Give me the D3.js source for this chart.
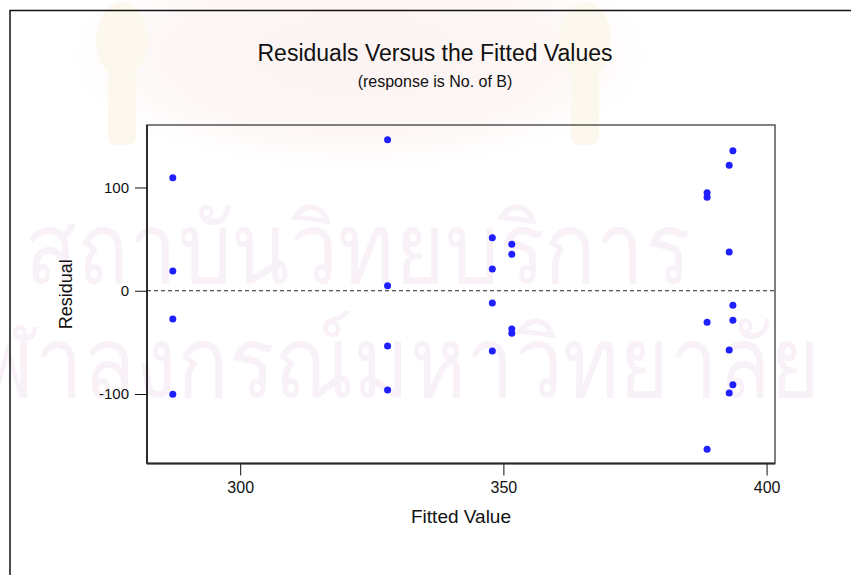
<!DOCTYPE html>
<html>
<head>
<meta charset="utf-8">
<script src="https://cdn.jsdelivr.net/npm/d3@7"></script>
<style>
  body { margin: 0; background: #fff; }
  text { font-family: "Liberation Sans", Arial, sans-serif; }
</style>
</head>
<body>
<svg width="851" height="575"></svg>
<script>
// Residuals vs fitted values (Minitab style)
const width = 851
const height = 575

// data
const fitted = [
  287.2, 287.2, 287.2, 287.2,
  328.0, 328.0, 328.0, 328.0,
  347.9, 347.9, 347.9, 347.9,
  351.6, 351.6, 351.6, 351.6,
  388.7, 388.7, 388.7, 388.7,
  392.9, 392.9, 392.9, 392.9,
  393.6, 393.6, 393.6, 393.6
]
const residual = [
  109.5, 19.1, -27.4, -100.3,
  146.3, 4.9, -53.5, -96.1,
  51.4, 21.1, -11.9, -58.4,
  45.0, 35.3, -37.0, -41.2,
  95.0, 90.5, -30.6, -153.6,
  121.5, 37.5, -57.4, -99.0,
  135.6, -14.1, -28.6, -91.0
]
const xTicks = [300, 350, 400]
const yTicks = [-100, 0, 100]
const watermark = ["สถาบันวิทยบริการ", "จุฬาลงกรณ์มหาวิทยาลัย"]

const points = fitted.map((f, i) => ({x: f, y: residual[i]}))

const svg = d3.select("svg")

// plot area
const pLeft = 147, pRight = 775, pTop = 125, pBottom = 463.5

const xScale = d3.scaleLinear()
  .domain([282.3, 401.6])
  .range([pLeft, pRight])

const yScale = d3.scaleLinear()
  .domain([-167.3, 160.5])
  .range([pBottom, pTop])

//################### watermark ####################
// faint emblem glow behind the title
const grad = svg.append("defs").append("radialGradient")
  .attr("id", "glow")
grad.append("stop").attr("offset", "0%").attr("stop-color", "#fcf3f3")
grad.append("stop").attr("offset", "70%").attr("stop-color", "#fdf7f6")
grad.append("stop").attr("offset", "100%").attr("stop-color", "#ffffff")
svg.append("ellipse")
  .attr("cx", 360).attr("cy", 55)
  .attr("rx", 290).attr("ry", 115)
  .attr("fill", "url(#glow)")
// tassels of the emblem
const tassel = svg.selectAll(".tassel")
  .data([122, 585])
  .join("g")
  .attr("class", "tassel")
  .attr("fill", "#fcf8ee")
tassel.append("ellipse")
  .attr("cx", d => d).attr("cy", 40)
  .attr("rx", 26).attr("ry", 38)
tassel.append("rect")
  .attr("x", d => d - 14).attr("y", 70)
  .attr("width", 28).attr("height", 75)
  .attr("rx", 8)

const wm = svg.append("g")
  .style("fill", "#f8f2f8")
  .style("font-family", "'Noto Sans', 'DejaVu Sans', sans-serif")
  .attr("text-anchor", "end")
wm.append("text")
  .attr("transform", "translate(690,283) scale(0.87,1)")
  .style("font-size", "98px")
  .text(watermark[0])
wm.append("text")
  .attr("transform", "translate(820,397) scale(0.87,1)")
  .style("font-size", "98px")
  .text(watermark[1])

// outer frame (runs off the page on the right and bottom)
svg.append("path")
  .attr("d", `M10,${height + 5}V10.5H${width + 5}`)
  .attr("fill", "none")
  .attr("stroke", "#111")
  .attr("stroke-width", 1.5)

//################### titles ####################
svg.append("text")
  .attr("x", 435).attr("y", 60.5)
  .attr("text-anchor", "middle")
  .style("font-size", "23px")
  .style("fill", "#111")
  .text("Residuals Versus the Fitted Values")

svg.append("text")
  .attr("x", 435).attr("y", 87)
  .attr("text-anchor", "middle")
  .style("font-size", "16px")
  .style("fill", "#111")
  .text("(response is No. of B)")

//################### frame + axes ####################
svg.append("rect")
  .attr("x", pLeft).attr("y", pTop)
  .attr("width", pRight - pLeft).attr("height", pBottom - pTop)
  .style("fill", "none")
  .style("stroke", "#555")
  .style("stroke-width", 1.5)

const xAxis = d3.axisBottom(xScale)
  .tickValues(xTicks)
  .tickSize(12)
  .tickPadding(6)
  .tickFormat(d => String(d))

const yAxis = d3.axisLeft(yScale)
  .tickValues(yTicks)
  .tickSize(12)
  .tickPadding(6)
  .tickFormat(d => String(d))

const xg = svg.append("g")
  .attr("transform", "translate(0," + pBottom + ")")
  .call(xAxis)
xg.select(".domain").remove()
xg.selectAll("line").style("stroke", "#111")
xg.selectAll("text")
  .style("font-size", "16px")
  .style("fill", "#111")
  .style("font-family", "'Liberation Sans', Arial, sans-serif")

const yg = svg.append("g")
  .attr("transform", "translate(" + pLeft + ",0)")
  .call(yAxis)
yg.select(".domain").remove()
yg.selectAll("line").style("stroke", "#111")
yg.selectAll("text")
  .style("font-size", "15px")
  .style("fill", "#111")
  .style("font-family", "'Liberation Sans', Arial, sans-serif")

// heavier axis lines
svg.append("line")
  .attr("x1", pLeft).attr("x2", pRight)
  .attr("y1", pBottom).attr("y2", pBottom)
  .style("stroke", "#2a2a2a")
  .style("stroke-width", 2)
svg.append("line")
  .attr("x1", pLeft).attr("x2", pLeft)
  .attr("y1", pTop).attr("y2", pBottom)
  .style("stroke", "#111")
  .style("stroke-width", 1.5)

// reference line at zero
svg.append("line")
  .attr("x1", pLeft).attr("x2", pRight)
  .attr("y1", yScale(0)).attr("y2", yScale(0))
  .style("stroke", "#222")
  .style("stroke-width", 1)
  .style("stroke-dasharray", "4,3")

// axis labels
svg.append("text")
  .attr("x", (pLeft + pRight) / 2).attr("y", 523)
  .attr("text-anchor", "middle")
  .style("font-size", "19px")
  .style("fill", "#111")
  .text("Fitted Value")

svg.append("text")
  .attr("transform", "translate(72," + (pTop + pBottom) / 2 + ") rotate(-90)")
  .attr("text-anchor", "middle")
  .style("font-size", "18px")
  .style("fill", "#111")
  .text("Residual")

//################### points ####################
svg.append("g")
  .selectAll("circle")
  .data(points)
  .join("circle")
  .attr("cx", d => xScale(d.x))
  .attr("cy", d => yScale(d.y))
  .attr("r", 3.5)
  .attr("fill", "#1f1fff")
</script>
</body>
</html>
